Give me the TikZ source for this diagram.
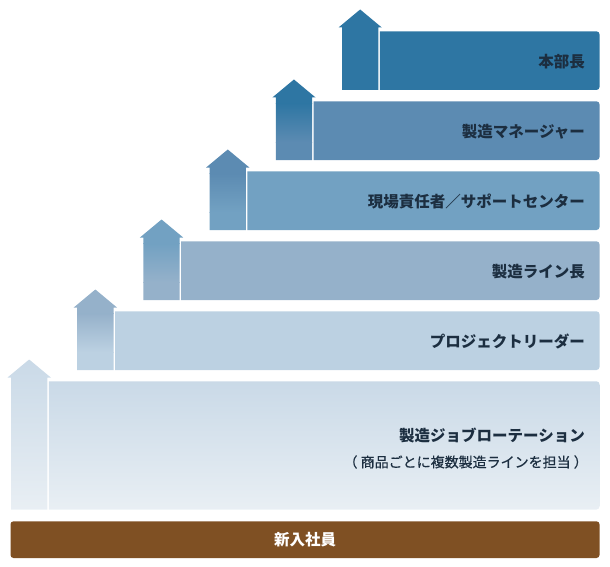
\documentclass[tikz,border=0pt]{standalone}
\usepackage{fontspec}
\newfontfamily\jp{Noto Sans CJK JP}
\newfontfamily\jpm[FakeBold=0.5]{Noto Sans CJK JP}
\definecolor{cA}{HTML}{E9EFF4}
\definecolor{cB}{HTML}{C9D9E7}
\definecolor{c2}{HTML}{BCD1E2}
\definecolor{c3}{HTML}{95B1CA}
\definecolor{c4}{HTML}{72A1C2}
\definecolor{c5}{HTML}{5C8BB2}
\definecolor{c6}{HTML}{2E76A3}
\definecolor{brownbar}{HTML}{7F5023}
\definecolor{txt}{HTML}{1C2E40}
\tikzset{
  lbl/.style={font=\jp\bfseries\fontsize{15.5}{18}\selectfont, text=txt, inner sep=0pt, anchor=east},
  sublbl/.style={font=\jpm\fontsize{14}{17}\selectfont, text=txt, inner sep=0pt, anchor=east},
}
\begin{document}
\begin{tikzpicture}[x=1pt,y=-1pt]
\useasboundingbox (0,0) rectangle (610,567);
\def\rr{3}
% level 1 arrow and bar
\begin{scope}
  \clip (11,509.5) -- (11,377.5) -- (7.5,377.5) -- (29.15,359.5) -- (50.8,377.5) -- (47.3,377.5) -- (47.3,509.5) -- cycle;
  \shade[top color=cB, bottom color=cA] (0,357) rectangle (60,512);
\end{scope}
\begin{scope}
  \clip (48.8,381.3) -- (599.5-\rr,381.3) arc[start angle=-90,end angle=0,radius=\rr] -- (599.5,509.5-\rr) arc[start angle=0,end angle=90,radius=\rr] -- (48.8,509.5) -- cycle;
  \shade[top color=cB, bottom color=cA] (40,379) rectangle (605,512);
\end{scope}
% levels 2-5
\foreach \k/\cur/\up in {2/c2/c3, 3/c3/c4, 4/c4/c5, 5/c5/c6}{
  \pgfmathsetmacro\sl{11+66.2*(\k-1)}
  \pgfmathsetmacro\sr{\sl+36.3}
  \pgfmathsetmacro\cx{\sl+18.15}
  \pgfmathsetmacro\tip{359.5-70*(\k-1)}
  \pgfmathsetmacro\base{\tip+18}
  \pgfmathsetmacro\bt{\tip+21.8}
  \pgfmathsetmacro\bb{370-70*(\k-2)}
  \pgfmathsetmacro\bl{\sl+37.8}
  \begin{scope}
    \clip (\sl,\bb) -- (\sl,\base) -- (\sl-3.5,\base) -- (\cx,\tip) -- (\sr+3.5,\base) -- (\sr,\base) -- (\sr,\bb) -- cycle;
    \fill[\cur] (\sl-5,\bb+2) rectangle (\sr+5,\base+44);
    \fill[\up] (\sl-5,\tip-2) rectangle (\sr+5,\base+6.5);
    \shade[top color=\up, bottom color=\cur] (\sl-5,\base+6) rectangle (\sr+5,\base+44.5);
  \end{scope}
  \fill[\cur] (\bl,\bt) -- (599.5-\rr,\bt) arc[start angle=-90,end angle=0,radius=\rr] -- (599.5,\bb-\rr) arc[start angle=0,end angle=90,radius=\rr] -- (\bl,\bb) -- cycle;
}
% level 6
\fill[c6] (342,90) -- (342,27.5) -- (338.5,27.5) -- (360.15,9.5) -- (381.8,27.5) -- (378.3,27.5) -- (378.3,90) -- cycle;
\fill[c6] (379.8,31.3) -- (599.5-\rr,31.3) arc[start angle=-90,end angle=0,radius=\rr] -- (599.5,90-\rr) arc[start angle=0,end angle=90,radius=\rr] -- (379.8,90) -- cycle;
% base bar
\fill[brownbar, rounded corners=3] (10.5,521.3) rectangle (599.5,558);
% labels
\node[lbl] (t6) at (585,62) {本部長};
\node[lbl] (t5) at (585,131.5) {製造マネージャー};
\node[lbl] (t4) at (585,201.5) {現場責任者／サポートセンター};
\node[lbl] (t3) at (585,271.5) {製造ライン長};
\node[lbl] (t2) at (585,341.5) {プロジェクトリーダー};
\node[lbl] (t1) at (585,435) {製造ジョブローテーション};
\node[sublbl] (t1s) at (588,462) {（ 商品ごとに複数製造ラインを担当 ）};
\node[lbl, anchor=center, text=white] (t0) at (305,540) {新入社員};
\end{tikzpicture}
\end{document}
